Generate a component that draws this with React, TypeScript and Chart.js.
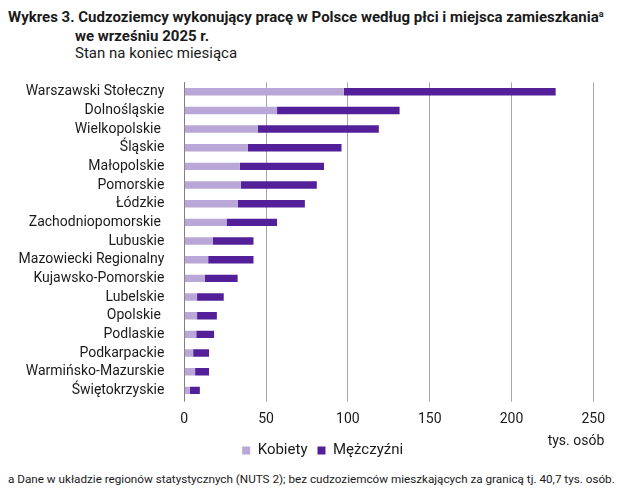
import React, { useEffect, useRef } from "react";
import { Chart, registerables } from "chart.js";

Chart.register(...registerables);

const categories = [
  "Warszawski Stołeczny",
  "Dolnośląskie",
  "Wielkopolskie ",
  "Śląskie",
  "Małopolskie",
  "Pomorskie",
  "Łódzkie",
  "Zachodniopomorskie ",
  "Lubuskie",
  "Mazowiecki Regionalny",
  "Kujawsko-Pomorskie",
  "Lubelskie",
  "Opolskie ",
  "Podlaskie",
  "Podkarpackie",
  "Warmińsko-Mazurskie",
  "Świętokrzyskie",
];

const kobiety = [97.5, 56.7, 45.0, 38.9, 34.0, 34.5, 32.6, 25.8, 17.5, 14.6, 12.6, 7.8, 7.8, 7.3, 5.4, 6.6, 3.4];
const mezczyzni = [129.5, 74.9, 73.9, 57.2, 51.4, 46.5, 41.1, 30.9, 24.8, 27.7, 20.0, 16.3, 12.1, 10.9, 9.7, 8.5, 6.1];

const seriesNames = ["Kobiety", "Mężczyźni"];
const xMin = 0;
const xMax = 250;
const xStep = 50;
const unitLabel = "tys. osób";

const titleLine1 = "Wykres 3. Cudzoziemcy wykonujący pracę w Polsce według płci i miejsca zamieszkania";
const titleSup = "a";
const titleLine2 = "we wrześniu 2025 r.";
const subtitle = "Stan na koniec miesiąca";
const footnote =
  "a Dane w układzie regionów statystycznych (NUTS 2); bez cudzoziemców mieszkających za granicą tj. 40,7 tys. osób.";

const FONT = "'Roboto', sans-serif";
const TEXT = "#1a1a1a";

export default function App() {
  const canvasRef = useRef<HTMLCanvasElement | null>(null);

  useEffect(() => {
    const canvas = canvasRef.current;
    if (!canvas) return;

    const unitPlugin = {
      id: "unitLabel",
      afterLayout(chart: any) {
        const lg = chart.legend;
        if (lg) {
          lg.left += 26;
          lg.right += 26;
        }
      },
      afterDraw(chart: any) {
        const { ctx, chartArea } = chart;
        ctx.save();
        ctx.font = `14px ${FONT}`;
        ctx.fillStyle = TEXT;
        ctx.textAlign = "right";
        ctx.textBaseline = "middle";
        ctx.fillText(unitLabel, chartArea.right + 11, chartArea.bottom + 41.5);
        ctx.restore();
      },
    };

    const chart = new Chart(canvas, {
      type: "bar",
      data: {
        labels: categories,
        datasets: [
          {
            label: seriesNames[0],
            data: kobiety,
            backgroundColor: "#b9a7d7",
            borderWidth: 0,
            barPercentage: 0.4,
            categoryPercentage: 1,
          },
          {
            label: seriesNames[1],
            data: mezczyzni,
            backgroundColor: "#53209a",
            borderWidth: 0,
            barPercentage: 0.4,
            categoryPercentage: 1,
          },
        ],
      },
      plugins: [unitPlugin],
      options: {
        indexAxis: "y",
        responsive: false,
        animation: false,
        devicePixelRatio: 1,
        layout: { padding: { top: 22.4, left: 0, right: 30.7, bottom: 0 } },
        plugins: {
          tooltip: { enabled: false },
          title: { display: false },
          legend: {
            display: true,
            position: "bottom",
            labels: {
              boxWidth: 8,
              boxHeight: 8,
              padding: 10,
              color: TEXT,
              font: { family: FONT, size: 15 },
            },
          },
        },
        scales: {
          x: {
            stacked: true,
            min: xMin,
            max: xMax,
            afterFit: (scale: any) => {
              scale.height = 33.3;
            },
            ticks: {
              stepSize: xStep,
              padding: 9,
              color: TEXT,
              font: { family: FONT, size: 14 },
            },
            grid: {
              color: (ctx: any) => (ctx.tick && ctx.tick.value === 0 ? "#7f7f7f" : "#a6a6a6"),
              tickLength: 2,
              lineWidth: 1,
            },
            border: { display: false },
          },
          y: {
            stacked: true,
            afterFit: (scale: any) => {
              scale.width = 184.3;
            },
            ticks: {
              padding: 12,
              color: TEXT,
              font: { family: FONT, size: 14 },
              autoSkip: false,
            },
            grid: { display: false },
            border: { display: true, color: "#7f7f7f" },
          },
        },
      },
    });

    return () => chart.destroy();
  }, []);

  return (
    <div
      style={{
        position: "absolute",
        left: 0,
        top: 0,
        width: 624,
        height: 496,
        background: "#ffffff",
        fontFamily: FONT,
        color: TEXT,
        overflow: "hidden",
      }}
    >
      <div style={{ position: "absolute", left: 8, top: 8, fontSize: 15, fontWeight: 700, lineHeight: "18px", whiteSpace: "nowrap" }}>
        {titleLine1}
        <sup style={{ fontSize: 9, verticalAlign: "top", lineHeight: "12px" }}>{titleSup}</sup>
      </div>
      <div style={{ position: "absolute", left: 75, top: 27, fontSize: 15, fontWeight: 700, lineHeight: "18px", whiteSpace: "nowrap" }}>
        {titleLine2}
      </div>
      <div style={{ position: "absolute", left: 75, top: 44, fontSize: 15, lineHeight: "18px", whiteSpace: "nowrap" }}>
        {subtitle}
      </div>
      <canvas
        ref={canvasRef}
        width={624}
        height={408}
        style={{ position: "absolute", left: 0, top: 60, width: 624, height: 408 }}
      />
      <div style={{ position: "absolute", left: 8, top: 470, fontSize: 11.7, lineHeight: "18px", whiteSpace: "nowrap" }}>
        {footnote}
      </div>
    </div>
  );
}
